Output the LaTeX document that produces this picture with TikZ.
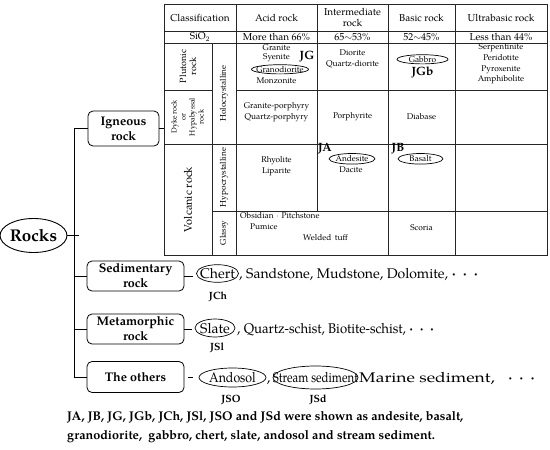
\documentclass[tikz,border=0pt]{standalone}
\usepackage{fontspec}
\setmainfont{TeX Gyre Pagella}
\usetikzlibrary{shapes.geometric}
\newcommand{\tdots}{{\boldmath$\cdot\,\cdot\,\cdot$}}
\tikzset{
  tline/.style={line width=0.8pt, draw=black!85},
  cell/.style={font=\fontsize{8.3}{10.6}\selectfont, align=center, inner sep=0pt},
  head/.style={font=\fontsize{10}{11}\selectfont, align=center, inner sep=0pt},
  vlab/.style={rotate=90, align=center, inner sep=0pt},
  catbox/.style={draw, rounded corners=5pt, line width=0.8pt, font=\bfseries\fontsize{12.5}{15}\selectfont, align=center, inner sep=0pt, minimum width=97pt, minimum height=30pt},
  oval/.style={line width=0.7pt},
  big/.style={font=\fontsize{14}{16}\selectfont, inner sep=0pt},
  tag/.style={font=\bfseries\fontsize{10.5}{12}\selectfont, inner sep=0pt},
  jtag/.style={font=\bfseries\fontsize{12}{12}\selectfont, inner sep=0pt},
  conn/.style={line width=0.9pt},
}
\begin{document}
\begin{tikzpicture}[x=1pt,y=-1pt]
\useasboundingbox (0,0) rectangle (550,450);
% ---------- table grid ----------
\draw[tline] (164,4) rectangle (547,255);
\draw[tline] (164,31) -- (547,31);
\draw[tline] (164,43) -- (547,43);
\draw[tline] (164,90.5) -- (212,90.5);
\draw[tline] (236,90.5) -- (547,90.5);
\draw[tline] (164,144) -- (547,144);
\draw[tline] (212,211) -- (547,211);
\draw[tline] (212,43) -- (212,255);
\draw[tline] (236,4) -- (236,255);
\draw[tline] (317,4) -- (317,211);
\draw[tline] (388,4) -- (388,255);
\draw[tline] (455,4) -- (455,255);
\coordinate (tabL) at (164,128.5);
% header
\node[head] (hc) at (200,17.5) {Classification};
\node[head] (ha) at (276.5,17.5) {Acid rock};
\node[head] (hi) at (352.5,17.5) {Intermediate\\rock};
\node[head] (hb) at (421.5,17.5) {Basic rock};
\node[head] (hu) at (501,17.5) {Ultrabasic rock};
\node[head] (s0) at (200,37) {SiO$_2$};
\node[head] (s1) at (276.5,37) {More than 66\%};
\node[head] (s2) at (352.5,37) {65$\sim$53\%};
\node[head] (s3) at (421.5,37) {52$\sim$45\%};
\node[head] (s4) at (501,37) {Less than 44\%};
% left labels
\node[vlab, font=\fontsize{9}{10}\selectfont] (plu) at (188,66.5) {Plutonic\\rock};
\node[vlab, font=\fontsize{7.3}{9}\selectfont] (dyk) at (187.5,117) {Dyke rock\\or\\Hypabyssal\\rock};
\node[vlab, font=\fontsize{8.3}{9}\selectfont] (hol) at (224,93.5) {Holocrystalline};
\node[vlab, font=\fontsize{11}{12}\selectfont] (vol) at (188,199.5) {Volcanic rock};
\node[vlab, font=\fontsize{8.3}{9}\selectfont] (hyp) at (224,177.5) {Hypocrystalline};
\node[vlab, font=\fontsize{8.3}{9}\selectfont] (gla) at (224,233) {Glassy};
% plutonic row
\node[cell] (gr) at (276.5,47.5) {Granite};
\node[cell] (sy) at (276.5,58) {Syenite};
\node[cell] (gd) at (280,69.5) {Granodiorite};
\node[cell] (mo) at (276.5,80.5) {Monzonite};
\draw[oval] (280,69.3) ellipse [x radius=28.5, y radius=4.6];
\node[jtag] (jg) at (307,57) {JG};
\node[cell] (di) at (352.5,59) {Diorite\\Quartz-diorite};
\node[cell] (gb) at (422.5,59.5) {Gabbro};
\draw[oval] (422.5,59.3) ellipse [x radius=25.5, y radius=4.6];
\node[jtag] (jgb) at (422.5,72.5) {JGb};
\node[cell] (ub) at (501,64) {Serpentinite\\Peridotite\\Pyroxenite\\Amphibolite};
% dyke row
\node[cell] (gp) at (276.5,112) {Granite-porphyry\\Quartz-porphyry};
\node[cell] (po) at (352.5,117) {Porphyrite};
\node[cell] (db) at (421.5,117) {Diabase};
% hypocrystalline row
\node[cell] (rh) at (276.5,166) {Rhyolite\\Liparite};
\node[cell] (an) at (352,159) {Andesite};
\draw[oval] (352,158.8) ellipse [x radius=23, y radius=5.3];
\node[cell] (da) at (351,169.5) {Dacite};
\node[jtag] (ja) at (325,148.5) {JA};
\node[cell] (ba) at (420.5,159) {Basalt};
\draw[oval] (420.5,158.8) ellipse [x radius=22.5, y radius=5.3];
\node[jtag] (jb) at (398,148.5) {JB};
% glassy row
\node[cell, anchor=west] (ob) at (240,216) {Obsidian\,\,$\cdot$\,\,Pitchstone};
\node[cell, anchor=west] (pu) at (250,227) {Pumice};
\node[cell, anchor=west] (wt) at (303,237.5) {Welded\, tuff};
\node[cell] (sc) at (421.5,228) {Scoria};
% ---------- tree ----------
\node[draw, ellipse, line width=0.9pt, inner sep=0pt, minimum width=59pt, minimum height=34pt, font=\bfseries\fontsize{17}{17}\selectfont] (rocks) at (33.5,235.5) {Rocks};
\node[catbox, minimum width=71pt, minimum height=35pt] (ign) at (123.5,128.5) {Igneous\\rock};
\node[catbox] (sed) at (135.5,276) {Sedimentary\\rock};
\node[catbox] (met) at (135.5,329) {Metamorphic\\rock};
\node[catbox, minimum height=31pt] (oth) at (135.5,377) {The others};
\draw[conn] (rocks.east) -- ++(12,0);
\draw[conn] (ign.west) -- ++(-13,0) |- (oth.west);
\draw[conn] (sed.west) -- ++(-12,0);
\draw[conn] (met.west) -- ++(-12,0);
\draw[conn] (ign.east) -- (tabL);
\draw[conn] (sed.east) -- ++(9,0);
\draw[conn] (met.east) -- ++(8,0);
\draw[conn] (oth.east) ++(4,0) -- ++(5,0);
% sedimentary line
\node[big, anchor=base] (ch) at (217.5,278.5) {Chert};
\draw[oval] (217.5,273.5) ellipse [x radius=21, y radius=8.8];
\node[big, anchor=base west] (chr) at (239,278.5) {, Sandstone, Mudstone, Dolomite, \tdots};
\node[tag] (jch) at (218,297) {JCh};
% metamorphic line
\node[big, anchor=base] (sl) at (215,333) {Slate};
\draw[oval] (215,328) ellipse [x radius=20, y radius=9];
\node[big, anchor=base west] (slr) at (237,333) {\scalebox{0.94}[1]{, Quartz-schist, Biotite-schist, \tdots}};
\node[tag] (jsl) at (217,347.5) {JSl};
% others line
\node[big, anchor=base] (ad) at (232.5,382.5) {\scalebox{0.88}[1]{Andosol}};
\draw[oval] (232.5,377.5) ellipse [x radius=33.5, y radius=9.5];
\node[big, anchor=base] (cm) at (268.5,382.5) {,};
\node[big, anchor=base] (ss) at (315.5,382.5) {\scalebox{0.82}[1]{Stream sediment}};
\draw[oval] (315.5,377.5) ellipse [x radius=42.5, y radius=11.5];
\node[big, anchor=base west] (ms) at (359,382.5) {\scalebox{1.25}[1]{Marine sediment,}};
\node[big, anchor=base west] (md) at (508,382.5) {\tdots};
\node[tag] (jso) at (231,399.5) {JSO};
\node[tag] (jsd) at (318,399.5) {JSd};
% footnote
\node[font=\bfseries\fontsize{12.6}{19}\selectfont, align=left, anchor=north west, inner sep=0pt] (fn) at (67,411) {JA, JB, JG, JGb, JCh, JSl, JSO and JSd were shown as andesite, basalt,\\granodiorite, \ gabbro, chert, slate, andosol and stream sediment.};
\end{tikzpicture}
\end{document}
